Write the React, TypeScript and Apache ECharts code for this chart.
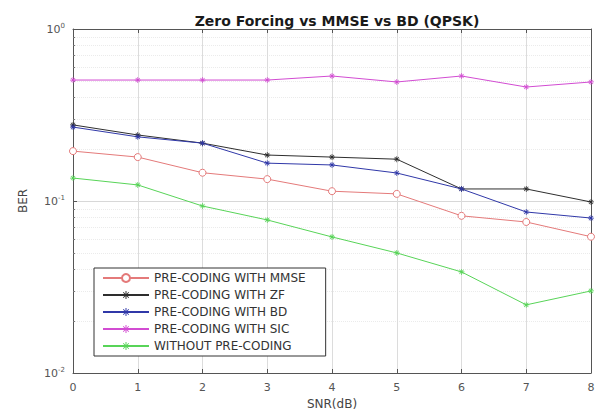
import React, { useEffect, useRef } from "react";
import * as echarts from "echarts";

const snr = [0, 1, 2, 3, 4, 5, 6, 7, 8];
const berMMSE = [0.195, 0.18, 0.146, 0.134, 0.114, 0.11, 0.082, 0.0755, 0.062];
const berZF = [0.277, 0.242, 0.217, 0.185, 0.18, 0.175, 0.1175, 0.1175, 0.0987];
const berBD = [0.269, 0.236, 0.217, 0.166, 0.162, 0.1455, 0.1175, 0.0863, 0.0796];
const berSIC = [0.505, 0.505, 0.505, 0.505, 0.533, 0.492, 0.533, 0.46, 0.492];
const berNone = [0.136, 0.124, 0.0935, 0.0776, 0.0618, 0.0499, 0.0387, 0.0249, 0.03];

const seriesNames = [
  "PRE-CODING WITH MMSE",
  "PRE-CODING WITH ZF",
  "PRE-CODING WITH BD",
  "PRE-CODING WITH SIC",
  "WITHOUT PRE-CODING",
];
const seriesColors = ["#e47a7a", "#2e2e2e", "#3038a8", "#d24cd2", "#58d458"];

const STAR =
  "path://M-0.6,-5L0.6,-5L0.6,5L-0.6,5Z M-5,-0.6L5,-0.6L5,0.6L-5,0.6Z M-3.9,-3.1L-3.1,-3.9L3.9,3.1L3.1,3.9Z M3.1,-3.9L3.9,-3.1L-3.1,3.9L-3.9,3.1Z";

const FONT = "DejaVu Sans";

export default function App() {
  const ref = useRef<HTMLDivElement>(null);
  useEffect(() => {
    if (!ref.current) return;
    const chart = echarts.init(ref.current, undefined, { renderer: "svg" });
    const data = [berMMSE, berZF, berBD, berSIC, berNone];
    const series = data.map((vals, i) => ({
      name: seriesNames[i],
      type: "line",
      data: snr.map((x, j) => [x, vals[j]]),
      symbol: i === 0 ? "circle" : STAR,
      symbolSize: i === 0 ? 7 : 6,
      showSymbol: true,
      lineStyle: { color: seriesColors[i], width: 1 },
      itemStyle:
        i === 0
          ? { color: "#ffffff", borderColor: seriesColors[i], borderWidth: 1 }
          : { color: seriesColors[i] },
      z: 3,
    }));
    const supFmt = (v: number) => {
      const e = Math.round(Math.log10(v));
      return `{b|10}{s|${e}}`;
    };
    chart.setOption({
      animation: false,
      backgroundColor: "#ffffff",
      title: {
        text: "Zero Forcing vs MMSE vs BD (QPSK)",
        left: 332,
        textAlign: "center",
        top: 9,
        textStyle: { fontFamily: FONT, fontSize: 14, fontWeight: "bold", color: "#1a1a1a" },
      },
      grid: { left: 73, right: 13, top: 29, bottom: 43 },
      legend: {
        data: seriesNames,
        orient: "vertical",
        left: 94,
        top: 268,
        padding: [4, 20, 4, 8],
        itemWidth: 46,
        itemHeight: 10,
        itemGap: 5,
        backgroundColor: "#ffffff",
        borderColor: "#333",
        borderWidth: 1,
        borderRadius: 0,
        textStyle: { fontFamily: FONT, fontSize: 12, color: "#333" },
      },
      xAxis: [
        {
          type: "value",
          min: 0,
          max: 8,
          interval: 1,
          name: "SNR(dB)",
          nameLocation: "middle",
          nameGap: 24,
          nameTextStyle: { fontFamily: FONT, fontSize: 12, color: "#444" },
          axisLine: { lineStyle: { color: "#555" } },
          axisTick: { inside: true, length: 4, lineStyle: { color: "#555" } },
          axisLabel: { fontFamily: FONT, fontSize: 11, color: "#555", margin: 9 },
          splitLine: { show: true, lineStyle: { color: "#dcdcdc", width: 1 } },
        },
        {
          type: "value",
          position: "top",
          min: 0,
          max: 8,
          interval: 1,
          axisLine: { show: true, onZero: false, lineStyle: { color: "#555" } },
          axisTick: { inside: true, length: 4, lineStyle: { color: "#555" } },
          axisLabel: { show: false },
          splitLine: { show: false },
        },
      ],
      yAxis: [
        {
          type: "log",
          logBase: 10,
          min: 0.01,
          max: 1,
          name: "BER",
          nameLocation: "middle",
          nameGap: 44,
          nameRotate: 90,
          nameTextStyle: { fontFamily: FONT, fontSize: 12, color: "#444" },
          axisLine: { show: true, lineStyle: { color: "#555" } },
          axisTick: { show: true, inside: true, length: 4, lineStyle: { color: "#555" } },
          minorTick: { show: true, splitNumber: 9, length: 2, lineStyle: { color: "#777" } },
          axisLabel: {
            formatter: supFmt,
            margin: 8,
            rich: {
              b: { fontFamily: FONT, fontSize: 11, color: "#555" },
              s: { fontFamily: FONT, fontSize: 7, color: "#555", verticalAlign: "top", padding: [0, 0, 7, 0] },
            },
          },
          splitLine: { show: true, lineStyle: { color: "#d8d8d8", width: 1 } },
          minorSplitLine: { show: true, lineStyle: { color: "#ebebeb", type: "dotted", width: 1 } },
        },
        {
          type: "log",
          logBase: 10,
          min: 0.01,
          max: 1,
          position: "right",
          axisLine: { show: true, onZero: false, lineStyle: { color: "#555" } },
          axisTick: { show: true, inside: true, length: 4, lineStyle: { color: "#555" } },
          axisLabel: { show: false },
          splitLine: { show: false },
        },
      ],
      series,
    });
    return () => chart.dispose();
  }, []);
  return (
    <div
      ref={ref}
      style={{ position: "fixed", left: 0, top: 0, width: 604, height: 416 }}
    />
  );
}
